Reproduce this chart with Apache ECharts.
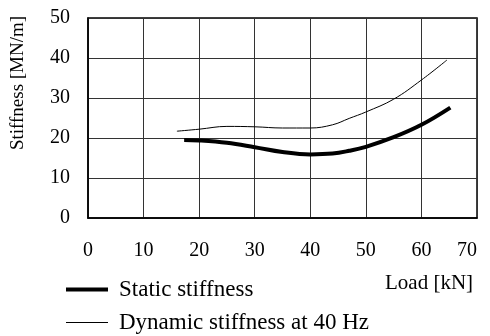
<!DOCTYPE html>
<html>
<head>
<meta charset="utf-8">
<script src="https://cdn.jsdelivr.net/npm/echarts@6/dist/echarts.min.js"></script>
<style>
  html, body { margin: 0; padding: 0; background: #fff; }
  #chart { width: 490px; height: 336px; }
</style>
</head>
<body>
<div id="chart"></div>
<script>
// load [kN] vs stiffness [MN/m]
const staticLoad = [17.3, 20, 25, 30, 35, 40, 44, 47, 50, 55, 60, 65.2];
const staticStiff = [19.5, 19.4, 18.8, 17.7, 16.5, 15.9, 16.1, 16.8, 17.8, 20.2, 23.3, 27.6];
const dynLoad = [16, 20, 25, 30, 35, 40, 44, 47, 50, 55, 60, 64.6];
const dynStiff = [21.7, 22.2, 22.9, 22.8, 22.5, 22.5, 23.3, 24.9, 26.5, 29.7, 34.5, 39.5];
const seriesNames = ['Static stiffness', 'Dynamic stiffness at 40 Hz'];

const font = 'Liberation Serif, Times New Roman, serif';
const zip = (xs, ys) => xs.map((x, i) => [x, ys[i]]);
const legendText = { fontFamily: font, fontSize: 23, color: '#000', padding: [0, 0, 0, 6] };

const chart = echarts.init(document.getElementById('chart'));

chart.setOption({
  animation: false,
  grid: {
    left: 88, right: 13, top: 18, bottom: 118,
    show: true, borderColor: '#000', borderWidth: 1.5
  },
  legend: [
    {
      left: 61, top: 273, icon: 'rect', itemWidth: 42, itemHeight: 4,
      textStyle: legendText, data: [seriesNames[0]]
    },
    {
      left: 61, top: 306, icon: 'rect', itemWidth: 42, itemHeight: 1,
      textStyle: legendText, data: [seriesNames[1]]
    }
  ],
  xAxis: {
    type: 'value', min: 0, max: 70, interval: 10,
    axisLine: { lineStyle: { color: '#000', width: 1.5 } },
    axisTick: { show: false },
    axisLabel: {
      fontFamily: font, fontSize: 20, color: '#000', margin: 23,
      alignMaxLabel: 'right'
    },
    splitLine: { lineStyle: { color: '#333', width: 1 } }
  },
  yAxis: {
    type: 'value', min: 0, max: 50, interval: 10,
    name: 'Stiffness [MN/m]', nameLocation: 'middle', nameGap: 60,
    // title sits above the middle of the axis in the original
    nameTextStyle: { fontFamily: font, fontSize: 19, color: '#000', padding: [0, 0, 0, 70] },
    axisLine: { show: true, lineStyle: { color: '#000', width: 1.5 } },
    axisTick: { show: false },
    axisLabel: { fontFamily: font, fontSize: 20, color: '#000', margin: 18 },
    splitLine: { lineStyle: { color: '#333', width: 1 } }
  },
  graphic: [{
    type: 'text', left: 385, top: 273,
    style: { text: 'Load [kN]', font: '21px ' + font, fill: '#000' }
  }],
  series: [
    {
      name: seriesNames[0], type: 'line', smooth: 0.4, symbol: 'none',
      lineStyle: { color: '#000', width: 4 }, itemStyle: { color: '#000' },
      data: zip(staticLoad, staticStiff)
    },
    {
      name: seriesNames[1], type: 'line', smooth: 0.4, symbol: 'none',
      lineStyle: { color: '#000', width: 1 }, itemStyle: { color: '#000' },
      data: zip(dynLoad, dynStiff)
    }
  ]
});
</script>
</body>
</html>
